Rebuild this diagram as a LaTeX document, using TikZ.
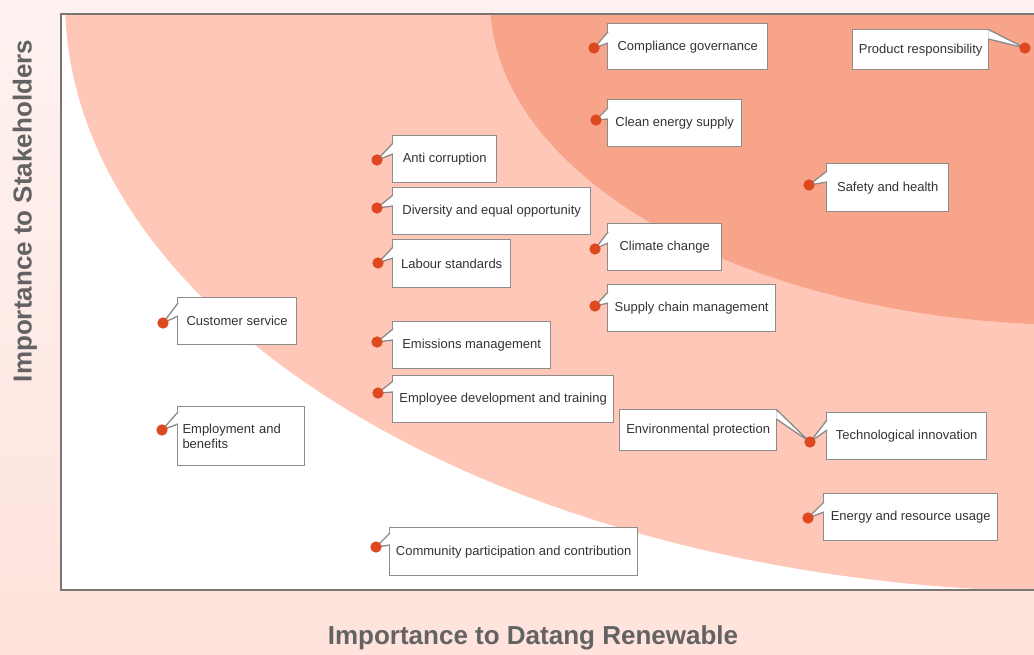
\documentclass[tikz,border=0pt]{standalone}
\usepackage{fontspec}
\setmainfont{Liberation Sans}
\usetikzlibrary{calc}
\definecolor{bgtop}{HTML}{FDF2F0}
\definecolor{bgbot}{HTML}{FFE3DC}
\definecolor{midzone}{HTML}{FFC7B7}
\definecolor{highzone}{HTML}{F8A48A}
\definecolor{dotred}{HTML}{DD481E}
\definecolor{framegray}{HTML}{7B7575}
\definecolor{boxgray}{HTML}{8C8C8C}
\definecolor{labelgray}{HTML}{636363}
\definecolor{textgray}{HTML}{333333}
\tikzset{
  issuebox/.style={draw=boxgray, line width=1pt, fill=white, anchor=north west, inner sep=0pt,
    text=textgray, font=\fontsize{9.75}{11.5}\selectfont, align=left},
  issuedot/.style={circle, fill=dotred, inner sep=0pt, minimum size=8.5pt},
  pointer/.style={draw=boxgray, fill=white, line width=1pt, line join=miter},
  axislabel/.style={text=labelgray, font=\fontsize{19.5}{23}\selectfont\bfseries},
}

\begin{document}
\begin{tikzpicture}[x=0.75pt,y=0.75pt,yscale=-1,xscale=1]
\useasboundingbox (0,0) rectangle (1034,654);
\shade[top color=bgtop, bottom color=bgbot] (0,0) rectangle (1034,654);

% Plot area
\fill[white] (61,14) rectangle (1040,590);
\begin{scope}
\clip (61,14) rectangle (1040,590);
\fill[midzone] (1080,0) ellipse [x radius=1015, y radius=592];
\fill[highzone] (1080,0) ellipse [x radius=590, y radius=325];
\end{scope}
\draw[framegray, line width=1.7pt] (1040,14) -- (61,14) -- (61,590) -- (1040,590);

% Axis labels
\node (ylab) [axislabel, rotate=90] at (25,211) {Importance to Stakeholders};
\node (xlab) [axislabel] at (533,638) {Importance to Datang Renewable};

% Compliance governance
\coordinate (cgpt) at (594,48);
\node (cg) [issuebox, minimum width=120pt, minimum height=34.5pt] at (607,23) {Compliance governance};
\filldraw[pointer] ($(cg.north west)+(1,9)$) -- (cgpt) -- ($(cg.north west)+(1,20)$);
\node (cgdot) [issuedot] at (cgpt) {};

% Product responsibility
\coordinate (prpt) at (1025,48);
\node (pr) [issuebox, minimum width=102pt, minimum height=30pt] at (852,29) {Product responsibility};
\filldraw[pointer] ($(pr.north east)+(-1,0.5)$) -- (prpt) -- ($(pr.north east)+(-1,10)$);
\node (prdot) [issuedot] at (prpt) {};

% Clean energy supply
\coordinate (cept) at (596,120);
\node (ce) [issuebox, minimum width=100.5pt, minimum height=35.25pt] at (607,99) {Clean energy supply};
\filldraw[pointer] ($(ce.north west)+(1,9)$) -- (cept) -- ($(ce.north west)+(1,20)$);
\node (cedot) [issuedot] at (cept) {};

% Anti corruption
\coordinate (acpt) at (377,160);
\node (ac) [issuebox, minimum width=78pt, minimum height=35.25pt] at (392,135) {Anti corruption};
\filldraw[pointer] ($(ac.north west)+(1,8)$) -- (acpt) -- ($(ac.north west)+(1,19)$);
\node (acdot) [issuedot] at (acpt) {};

% Safety and health
\coordinate (shpt) at (809,185);
\node (sh) [issuebox, minimum width=91.5pt, minimum height=36pt] at (826,163) {Safety and health};
\filldraw[pointer] ($(sh.north west)+(1,8)$) -- (shpt) -- ($(sh.north west)+(1,19)$);
\node (shdot) [issuedot] at (shpt) {};

% Diversity and equal opportunity
\coordinate (dept) at (377,208);
\node (de) [issuebox, minimum width=148.5pt, minimum height=35.25pt] at (392,187) {Diversity and equal opportunity};
\filldraw[pointer] ($(de.north west)+(1,8)$) -- (dept) -- ($(de.north west)+(1,19)$);
\node (dedot) [issuedot] at (dept) {};

% Climate change
\coordinate (ccpt) at (595,249);
\node (cc) [issuebox, minimum width=85.5pt, minimum height=35.25pt] at (607,223) {Climate change};
\filldraw[pointer] ($(cc.north west)+(1,9)$) -- (ccpt) -- ($(cc.north west)+(1,20)$);
\node (ccdot) [issuedot] at (ccpt) {};

% Labour standards
\coordinate (lspt) at (378,263);
\node (ls) [issuebox, minimum width=88.5pt, minimum height=36pt] at (392,239) {Labour standards};
\filldraw[pointer] ($(ls.north west)+(1,8)$) -- (lspt) -- ($(ls.north west)+(1,19)$);
\node (lsdot) [issuedot] at (lspt) {};

% Supply chain management
\coordinate (scpt) at (595,306);
\node (sc) [issuebox, minimum width=126pt, minimum height=35.25pt] at (607,284) {Supply chain management};
\filldraw[pointer] ($(sc.north west)+(1,8)$) -- (scpt) -- ($(sc.north west)+(1,19)$);
\node (scdot) [issuedot] at (scpt) {};

% Customer service
\coordinate (cspt) at (163,323);
\node (cs) [issuebox, minimum width=89.25pt, minimum height=35.25pt] at (177,297) {Customer service};
\filldraw[pointer] ($(cs.north west)+(1,6)$) -- (cspt) -- ($(cs.north west)+(1,19)$);
\node (csdot) [issuedot] at (cspt) {};

% Emissions management
\coordinate (empt) at (377,342);
\node (em) [issuebox, minimum width=118.5pt, minimum height=35.25pt] at (392,321) {Emissions management};
\filldraw[pointer] ($(em.north west)+(1,8)$) -- (empt) -- ($(em.north west)+(1,19)$);
\node (emdot) [issuedot] at (empt) {};

% Employee development and training
\coordinate (edpt) at (378,393);
\node (ed) [issuebox, minimum width=165.75pt, minimum height=35.25pt] at (392,375) {Employee development and training};
\filldraw[pointer] ($(ed.north west)+(1,6)$) -- (edpt) -- ($(ed.north west)+(1,17)$);
\node (eddot) [issuedot] at (edpt) {};

% Technological innovation / Environmental protection (shared point)
\coordinate (tipt) at (810,442);
\node (ep) [issuebox, minimum width=117.75pt, minimum height=30.75pt] at (619,409) {Environmental protection};
\filldraw[pointer] ($(ep.north east)+(-1,0.5)$) -- (tipt) -- ($(ep.north east)+(-1,10)$);
\node (ti) [issuebox, minimum width=120pt, minimum height=35.25pt] at (826,412) {Technological innovation};
\filldraw[pointer] ($(ti.north west)+(1,8)$) -- (tipt) -- ($(ti.north west)+(1,18)$);
\node (tidot) [issuedot] at (tipt) {};

% Employment and benefits
\coordinate (ebpt) at (162,430);
\node (eb) [issuebox, minimum width=95.25pt, minimum height=44.25pt, text width=88pt] at (177,406) {Employment and\\benefits};
\filldraw[pointer] ($(eb.north west)+(1,6)$) -- (ebpt) -- ($(eb.north west)+(1,18)$);
\node (ebdot) [issuedot] at (ebpt) {};

% Energy and resource usage
\coordinate (erpt) at (808,518);
\node (er) [issuebox, minimum width=130.5pt, minimum height=35.25pt] at (823,493) {Energy and resource usage};
\filldraw[pointer] ($(er.north west)+(1,9)$) -- (erpt) -- ($(er.north west)+(1,19)$);
\node (erdot) [issuedot] at (erpt) {};

% Community participation and contribution
\coordinate (cppt) at (376,547);
\node (cp) [issuebox, minimum width=186pt, minimum height=36pt] at (389,527) {Community participation and contribution};
\filldraw[pointer] ($(cp.north west)+(1,6)$) -- (cppt) -- ($(cp.north west)+(1,18)$);
\node (cpdot) [issuedot] at (cppt) {};

\end{tikzpicture}
\end{document}
